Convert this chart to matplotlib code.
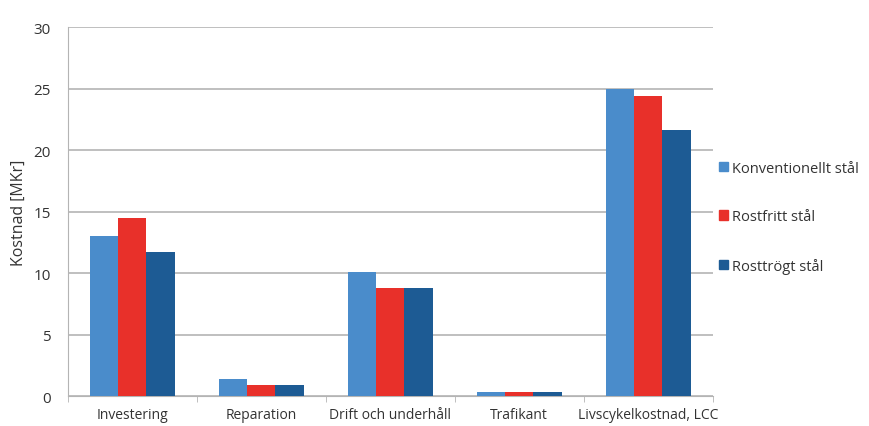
import numpy as np
import matplotlib.pyplot as plt
from matplotlib.patches import Patch

plt.rcParams['font.family'] = ['Open Sans', 'DejaVu Sans']

# kostnadsposter och serier
kategorier = ["Investering", "Reparation", "Drift och underhåll", "Trafikant", "Livscykelkostnad, LCC"]
serier = ["Konventionellt stål", "Rostfritt stål", "Rosttrögt stål"]
konventionellt = [13.0, 1.4, 10.1, 0.3, 25.0]
rostfritt = [14.5, 0.9, 8.8, 0.3, 24.4]
rosttrogt = [11.7, 0.9, 8.8, 0.3, 21.6]
farger = ["#4a8ccb", "#e8302a", "#1d5b94"]

fig = plt.figure(figsize=(8.69, 4.27), dpi=100)
ax = fig.add_axes([0.078, 0.070, 0.742, 0.864])

x = np.arange(len(kategorier))
w = 0.22
for i, (varden, f) in enumerate(zip([konventionellt, rostfritt, rosttrogt], farger)):
    ax.bar(x + (i - 1) * w, varden, width=w, color=f, zorder=3)

ax.set_xlim(-0.5, len(kategorier) - 0.5)
ax.set_ylim(0, 30)
ax.set_yticks(range(0, 31, 5))
ax.yaxis.grid(True, color="#b4b4b4", linewidth=1.2, zorder=0)
ax.set_xticks(x)
ax.set_xticklabels(kategorier, fontsize=10, color="#333333")
ax.tick_params(axis="x", length=0, pad=8)
ax.tick_params(axis="y", length=0, labelsize=11, colors="#333333", pad=12)
ax.set_xticks(np.arange(-0.5, len(kategorier)), minor=True)
ax.tick_params(axis="x", which="minor", length=4, color="#b4b4b4")
for s in ["top", "right"]:
    ax.spines[s].set_visible(False)
ax.spines["left"].set_color("#b4b4b4")
ax.spines["bottom"].set_color("#b4b4b4")
ax.set_ylabel("Kostnad [MKr]", fontsize=11.5, color="#333333", labelpad=5)

handles = [Patch(color=f) for f in farger]
ax.legend(handles, serier, loc="center left", bbox_to_anchor=(0.99, 0.485),
          frameon=False, fontsize=10.5, handlelength=0.6, handleheight=0.6,
          handletextpad=0.3, labelspacing=2.3, labelcolor="#333333")

fig.savefig("out.png", dpi=100)
